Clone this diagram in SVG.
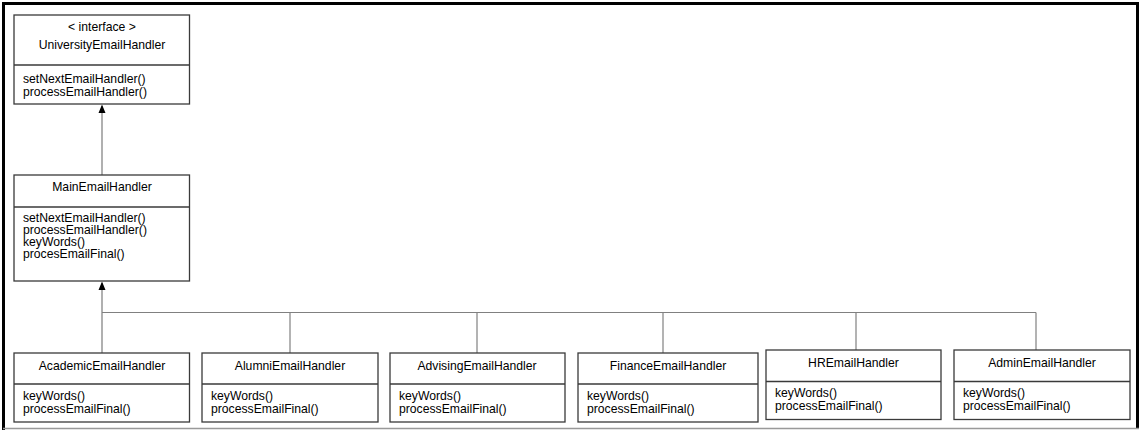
<svg xmlns="http://www.w3.org/2000/svg" width="1141" height="430" viewBox="0 0 1141 430">
<style>
.box{fill:#fff;stroke:#3a3a3a;stroke-width:1.3}
.div{stroke:#3a3a3a;stroke-width:1.3}
.t{font-family:"Liberation Sans",Arial,sans-serif;font-size:12.2px;fill:#000}
.c{text-anchor:middle}
.main{stroke:#b0b0b0;stroke-width:2;fill:none}
.thin{stroke:#808080;stroke-width:1.2;fill:none}
</style>
<rect x="0" y="0" width="1141" height="430" fill="#fff"/>
<path d="M3.5,430 V3.5 H1137.5 V428" fill="none" stroke="#000" stroke-width="3"/>
<line x1="3" y1="428.5" x2="1139" y2="428.5" stroke="#999" stroke-width="1.5"/>

<g id="connectors">
<line class="main" x1="102" y1="175" x2="102" y2="106"/>
<path d="M98.5,113 L102,104.5 L105.5,113 Z" fill="#000"/>
<line class="main" x1="102" y1="353" x2="102" y2="283"/>
<path d="M98.5,290 L102,281.5 L105.5,290 Z" fill="#000"/>
<line class="thin" x1="102" y1="312.5" x2="1036" y2="312.5"/>
<line class="thin" x1="290" y1="312.5" x2="290" y2="353"/>
<line class="thin" x1="477" y1="312.5" x2="477" y2="353"/>
<line class="thin" x1="663" y1="312.5" x2="663" y2="353"/>
<line class="thin" x1="856" y1="312.5" x2="856" y2="350"/>
<line class="thin" x1="1036" y1="312.5" x2="1036" y2="350"/>
</g>

<g id="UniversityEmailHandler">
<rect class="box" x="14" y="15" width="175.5" height="89"/>
<line class="div" x1="14" y1="65" x2="189.5" y2="65"/>
<text class="t c" x="102" y="31">&lt; interface &gt;</text>
<text class="t c" x="102" y="49">UniversityEmailHandler</text>
<text class="t" x="23" y="83">setNextEmailHandler()</text>
<text class="t" x="23" y="95.5">processEmailHandler()</text>
</g>

<g id="MainEmailHandler">
<rect class="box" x="14" y="175" width="175.5" height="106"/>
<line class="div" x1="14" y1="207" x2="189.5" y2="207"/>
<text class="t c" x="102" y="190.5">MainEmailHandler</text>
<text class="t" x="23" y="221.5">setNextEmailHandler()</text>
<text class="t" x="23" y="233.5">processEmailHandler()</text>
<text class="t" x="23" y="245.5">keyWords()</text>
<text class="t" x="23" y="257.5">procesEmailFinal()</text>
</g>

<g id="AcademicEmailHandler">
<rect class="box" x="14" y="353" width="175.5" height="69"/>
<line class="div" x1="14" y1="384" x2="189.5" y2="384"/>
<text class="t c" x="102" y="369.5">AcademicEmailHandler</text>
<text class="t" x="23" y="400">keyWords()</text>
<text class="t" x="23" y="412.5">processEmailFinal()</text>
</g>

<g id="AlumniEmailHandler">
<rect class="box" x="202" y="353" width="176" height="69"/>
<line class="div" x1="202" y1="384" x2="378" y2="384"/>
<text class="t c" x="290" y="369.5">AlumniEmailHandler</text>
<text class="t" x="211" y="400">keyWords()</text>
<text class="t" x="211" y="412.5">processEmailFinal()</text>
</g>

<g id="AdvisingEmailHandler">
<rect class="box" x="390" y="353" width="175" height="69"/>
<line class="div" x1="390" y1="384" x2="565" y2="384"/>
<text class="t c" x="477" y="369.5">AdvisingEmailHandler</text>
<text class="t" x="399" y="400">keyWords()</text>
<text class="t" x="399" y="412.5">processEmailFinal()</text>
</g>

<g id="FinanceEmailHandler">
<rect class="box" x="578" y="353" width="180" height="69"/>
<line class="div" x1="578" y1="384" x2="758" y2="384"/>
<text class="t c" x="668" y="369.5">FinanceEmailHandler</text>
<text class="t" x="587" y="400">keyWords()</text>
<text class="t" x="587" y="412.5">processEmailFinal()</text>
</g>

<g id="HREmailHandler">
<rect class="box" x="766" y="350" width="175" height="69.5"/>
<line class="div" x1="766" y1="381.5" x2="941" y2="381.5"/>
<text class="t c" x="853.5" y="366.5">HREmailHandler</text>
<text class="t" x="775" y="397">keyWords()</text>
<text class="t" x="775" y="409.5">processEmailFinal()</text>
</g>

<g id="AdminEmailHandler">
<rect class="box" x="954" y="350" width="176" height="69.5"/>
<line class="div" x1="954" y1="381.5" x2="1130" y2="381.5"/>
<text class="t c" x="1042" y="366.5">AdminEmailHandler</text>
<text class="t" x="963" y="397">keyWords()</text>
<text class="t" x="963" y="409.5">processEmailFinal()</text>
</g>
</svg>
